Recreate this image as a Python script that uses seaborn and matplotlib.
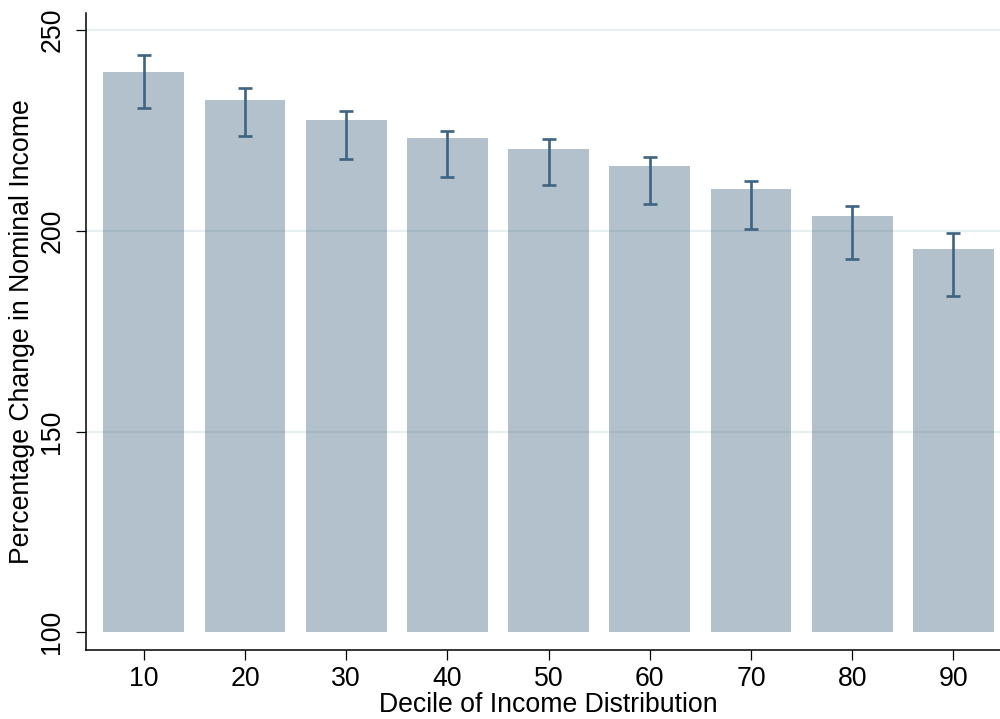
import matplotlib
matplotlib.use("Agg")
import matplotlib.pyplot as plt
import seaborn as sns
import pandas as pd
import numpy as np

# Data
deciles = [10, 20, 30, 40, 50, 60, 70, 80, 90]
pct_change = [239.6, 232.6, 227.6, 223.2, 220.4, 216.2, 210.5, 203.7, 195.5]
ci_upper = [243.8, 235.5, 229.9, 224.8, 222.8, 218.3, 212.4, 206.2, 199.5]
ci_lower = [230.7, 223.7, 217.8, 213.5, 211.5, 206.6, 200.5, 193.1, 183.8]
base_value = 100
y_ticks = [100, 150, 200, 250]
x_ticks = deciles

sns.set_theme(style="white")
plt.rcParams['font.family'] = ['Liberation Sans', 'DejaVu Sans']

df = pd.DataFrame({"decile": deciles, "pct": pct_change})
df["height"] = df["pct"] - base_value

fig = plt.figure(figsize=(10, 7.19), dpi=100)
ax = fig.add_axes([0.0863, 0.0964, 1.0 - 0.0863 + 0.002, 0.9815 - 0.0964])

bar_color = "#426480"
for yv in y_ticks[1:]:
    ax.axhline(yv, color="#e6eff1", linewidth=1.6, zorder=0)

sns.barplot(data=df, x="decile", y="height", native_scale=True, width=0.8,
            color=bar_color, alpha=0.4, saturation=1, errorbar=None,
            bottom=base_value, linewidth=0, ax=ax, zorder=2)

lo = np.array(ci_lower)
hi = np.array(ci_upper)
mid = (lo + hi) / 2
ax.errorbar(deciles, mid, yerr=(hi - lo) / 2, fmt="none", ecolor="#3e6481",
            elinewidth=1.9, capsize=5.0, capthick=1.9, zorder=3)

ax.set_xlim(4.32, 94.8)
ax.set_ylim(95.67, 254.2)
ax.set_xticks(x_ticks)
ax.set_xticklabels([str(v) for v in x_ticks])
ax.set_yticks(y_ticks)
ax.set_yticklabels([str(v) for v in y_ticks], rotation=90, va="center")

for s in ["top", "right"]:
    ax.spines[s].set_visible(False)
for s in ["left", "bottom"]:
    ax.spines[s].set_color("black")
    ax.spines[s].set_linewidth(1.1)

fs = 19.2
ax.tick_params(axis="both", which="major", direction="out", length=7, width=0.9,
               color="black", labelsize=fs, labelcolor="black", left=True, bottom=True)
ax.tick_params(axis="y", pad=8)
ax.tick_params(axis="x", pad=5)

ax.set_xlabel("Decile of Income Distribution", fontsize=fs, color="black")
ax.set_ylabel("Percentage Change in Nominal Income", fontsize=fs, color="black", labelpad=3)
ax.xaxis.set_label_coords(0.5045, -0.067)

fig.savefig("out.png", dpi=100)
